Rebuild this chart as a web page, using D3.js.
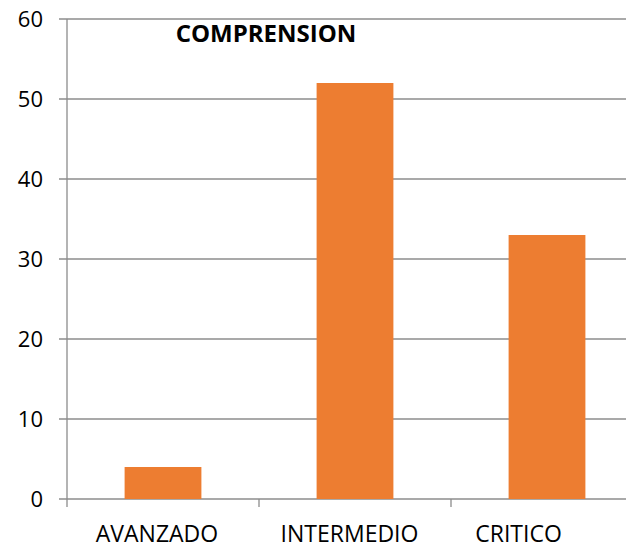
<!DOCTYPE html>
<html><head><meta charset="utf-8">
<script src="https://cdn.jsdelivr.net/npm/d3@7"></script>
<style>body{margin:0;background:#fff}svg{display:block}</style>
</head><body>
<script>
const categories = ["AVANZADO", "INTERMEDIO", "CRITICO"];
const values = [4, 52, 33];
const yTicks = [0, 10, 20, 30, 40, 50, 60];
const title = "COMPRENSION";

(function () {
const W = 626, H = 545;
const mLeft = 67, mRight = 643, mTop = 19, mBottom = 499;
const labelShift = [-6, -5.5, -28.5];
const svg = d3.select("body").append("svg").attr("width", W).attr("height", H);

const x = d3.scaleBand().domain(categories).range([mLeft, mRight]).paddingInner(0.6).paddingOuter(0.3);
const y = d3.scaleLinear().domain([0, 60]).range([mBottom, mTop]);
const font = "'Open Sans', sans-serif";
const grid = "#8c8c8c";

// gridlines
svg.append("g").selectAll("line").data(yTicks).join("line")
  .attr("x1", mLeft - 8).attr("x2", W).attr("y1", d => y(d)).attr("y2", d => y(d))
  .attr("stroke", grid).attr("stroke-width", 1.3);

// y axis line
svg.append("line").attr("x1", mLeft).attr("x2", mLeft).attr("y1", mTop).attr("y2", mBottom + 8)
  .attr("stroke", grid).attr("stroke-width", 1.3);

// category boundary ticks
const step = x.step();
svg.append("g").selectAll("line").data(categories).join("line")
  .attr("x1", d => x(d) - x.paddingOuter() * step + step).attr("x2", d => x(d) - x.paddingOuter() * step + step)
  .attr("y1", mBottom).attr("y2", mBottom + 8)
  .attr("stroke", grid).attr("stroke-width", 1.3);

// bars
svg.append("g").selectAll("rect").data(values).join("rect")
  .attr("x", (d, i) => x(categories[i])).attr("width", x.bandwidth())
  .attr("y", d => y(d)).attr("height", d => y(0) - y(d))
  .attr("fill", "#ED7D31");

// y labels
svg.append("g").selectAll("text").data(yTicks).join("text")
  .attr("x", 43).attr("y", d => y(d)).attr("dy", "0.36em")
  .attr("text-anchor", "end").attr("font-family", font).attr("font-size", 22)
  .attr("fill", "#000").text(d => d);

// x labels
svg.append("g").selectAll("text").data(categories).join("text")
  .attr("x", (d, i) => x(d) + x.bandwidth() / 2 + labelShift[i]).attr("y", 542)
  .attr("text-anchor", "middle").attr("font-family", font).attr("font-size", 23)
  .attr("fill", "#000").text(d => d);

// title
svg.append("text").attr("x", 266).attr("y", 42).attr("text-anchor", "middle")
  .attr("font-family", font).attr("font-weight", "bold").attr("font-size", 24)
  .attr("fill", "#000").text(title);
})();
</script>
</body></html>
